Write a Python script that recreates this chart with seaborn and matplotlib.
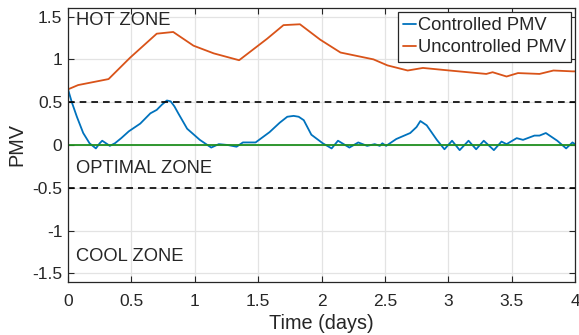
import matplotlib
matplotlib.use('Agg')
from matplotlib import pyplot as plt
import pandas as pd
import seaborn as sns

# controlled PMV (blue)
ctrl_t = [0.0, 0.03, 0.07, 0.12, 0.17, 0.22, 0.25, 0.27, 0.29, 0.33, 0.37, 0.42, 0.48, 0.57,
          0.65, 0.70, 0.74, 0.78, 0.81, 0.84, 0.87, 0.94, 1.04, 1.13, 1.19, 1.26, 1.33, 1.38,
          1.48, 1.59, 1.67, 1.73, 1.78, 1.82, 1.86, 1.92, 2.01, 2.08, 2.13, 2.22, 2.29, 2.36,
          2.42, 2.46, 2.48, 2.51, 2.59, 2.70, 2.75, 2.78, 2.83, 2.91, 2.97, 3.03, 3.09, 3.16,
          3.22, 3.28, 3.36, 3.42, 3.46, 3.54, 3.59, 3.68, 3.72, 3.77, 3.86, 3.93, 3.98, 4.0]
ctrl_pmv = [0.65, 0.50, 0.33, 0.14, 0.02, -0.04, 0.02, 0.05, 0.03, -0.01, 0.02, 0.08, 0.16, 0.25,
            0.37, 0.41, 0.47, 0.52, 0.51, 0.45, 0.37, 0.19, 0.06, -0.03, 0.01, 0.0, -0.02, 0.03,
            0.03, 0.15, 0.26, 0.33, 0.34, 0.33, 0.29, 0.12, 0.02, -0.04, 0.05, -0.03, 0.03, -0.01,
            0.01, -0.01, 0.02, -0.01, 0.07, 0.14, 0.21, 0.28, 0.23, 0.06, -0.05, 0.05, -0.06, 0.05,
            -0.05, 0.05, -0.06, 0.04, 0.01, 0.08, 0.06, 0.11, 0.11, 0.14, 0.05, -0.04, 0.03, 0.01]

# uncontrolled PMV (orange)
unc_t = [0.0, 0.08, 0.32, 0.49, 0.70, 0.83, 0.99, 1.15, 1.35, 1.57, 1.70, 1.83, 1.99, 2.15,
         2.41, 2.52, 2.68, 2.80, 3.01, 3.30, 3.35, 3.46, 3.55, 3.72, 3.83, 3.98, 4.0]
unc_pmv = [0.65, 0.70, 0.77, 1.02, 1.30, 1.32, 1.16, 1.07, 0.99, 1.24, 1.40, 1.41, 1.23, 1.08,
           1.00, 0.93, 0.87, 0.90, 0.87, 0.83, 0.85, 0.80, 0.84, 0.83, 0.87, 0.86, 0.86]

series_names = ['Controlled PMV', 'Uncontrolled PMV']
zone_limits = [0.5, -0.5]
x_ticks = [0, 0.5, 1, 1.5, 2, 2.5, 3, 3.5, 4]
y_ticks = [-1.5, -1, -0.5, 0, 0.5, 1, 1.5]

df = pd.concat([
    pd.DataFrame({'t': ctrl_t, 'pmv': ctrl_pmv, 'series': series_names[0]}),
    pd.DataFrame({'t': unc_t, 'pmv': unc_pmv, 'series': series_names[1]}),
])

sns.set_style('ticks')
plt.rcParams['font.family'] = ['Liberation Sans', 'DejaVu Sans']

fig = plt.figure(figsize=(5.79, 3.35), dpi=100)
ax = fig.add_axes([68 / 579, 53 / 335, 507 / 579, 274 / 335])

sns.lineplot(data=df, x='t', y='pmv', hue='series', sort=False, estimator=None,
             palette=['#0072BD', '#D95319'], linewidth=1.3, ax=ax)

for lim in zone_limits:
    ax.axhline(lim, color='black', linestyle=(0, (4, 3)), linewidth=1.2)
ax.axhline(0, color='#1f8f1f', linewidth=1.3)

ax.text(0.06, 1.40, 'HOT ZONE', fontsize=13.2, va='baseline')
ax.text(0.065, -0.33, 'OPTIMAL ZONE', fontsize=13.2, va='baseline')
ax.text(0.06, -1.35, 'COOL ZONE', fontsize=13.2, va='baseline')

ax.set_xlim(0, 4)
ax.set_ylim(-1.6, 1.6)
ax.set_xticks(x_ticks)
ax.set_xticklabels(['0', '0.5', '1', '1.5', '2', '2.5', '3', '3.5', '4'])
ax.set_yticks(y_ticks)
ax.set_yticklabels(['-1.5', '-1', '-0.5', '0', '0.5', '1', '1.5'])
ax.grid(True, color='#e3e3e3', linewidth=0.9)
ax.set_axisbelow(True)
ax.tick_params(direction='in', top=True, right=True, labelsize=12.5, length=4,
               color='#262626', labelcolor='#262626')
ax.tick_params(axis='x', pad=9)
ax.tick_params(axis='y', pad=4)
for s in ax.spines.values():
    s.set_color('#262626')
    s.set_linewidth(0.9)
ax.set_xlabel('Time (days)', fontsize=14.3, color='#262626', labelpad=3)
ax.set_ylabel('PMV', fontsize=14.3, color='#262626', labelpad=4)

leg = ax.legend(loc='upper right', fontsize=13.2, frameon=True, fancybox=False,
                edgecolor='#262626', framealpha=1, handlelength=0.7, handletextpad=0.1,
                borderpad=0.3, labelspacing=0.28, borderaxespad=0.2)
leg.get_frame().set_linewidth(0.9)
leg.set_title(None)

fig.savefig('out.png', dpi=100)
